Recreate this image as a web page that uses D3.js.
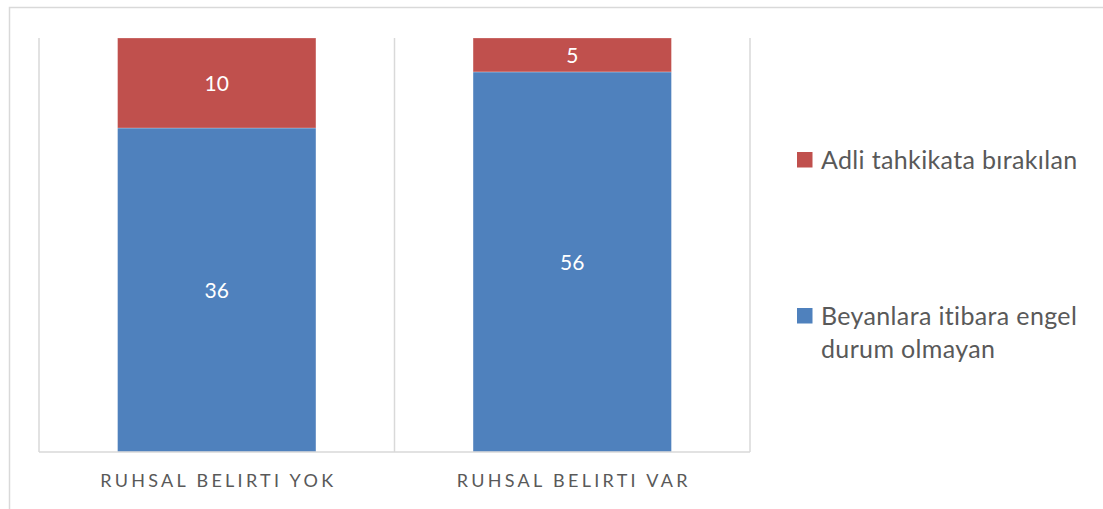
<!DOCTYPE html>
<html>
<head>
<meta charset="utf-8">
<script src="https://cdn.jsdelivr.net/npm/d3@7"></script>
<style>
  html, body { margin: 0; padding: 0; background: #fff; }
  svg { display: block; font-family: Lato, "Open Sans", sans-serif; font-variant-ligatures: none; }
</style>
</head>
<body>
<svg id="chart" width="1103" height="509"></svg>
<script>
// Categories and series (counts per group)
const categories = ["RUHSAL BELIRTI YOK", "RUHSAL BELIRTI VAR"];
const seriesNames = ["Beyanlara itibara engel durum olmayan", "Adli tahkikata bırakılan"];
const beyanlara = [36, 56];
const adli = [10, 5];
const seriesColors = ["#4F81BD", "#C0504D"];

const svg = d3.select("#chart");
const W = 1103, H = 509;
const plot = { left: 39, right: 750, top: 38, bottom: 452 };

// Outer chart frame (clipped at right and bottom edges)
svg.append("rect")
  .attr("x", 9.5).attr("y", 7.5)
  .attr("width", W).attr("height", H)
  .attr("fill", "none").attr("stroke", "#D9D9D9").attr("stroke-width", 1.5);

const x = d3.scaleBand().domain(categories).range([plot.left, plot.right]).padding(0);
const y = d3.scaleLinear().domain([0, 1]).range([plot.bottom, plot.top]);
const barW = x.bandwidth() * 0.558;

// Vertical gridlines at category boundaries
const gridXs = categories.map(c => x(c)).concat([plot.right]);
svg.append("g").selectAll("line").data(gridXs).join("line")
  .attr("x1", d => d).attr("x2", d => d)
  .attr("y1", plot.top).attr("y2", plot.bottom)
  .attr("stroke", "#D9D9D9").attr("stroke-width", 1.5);

// 100% stacked data
const rows = categories.map((c, i) => {
  const total = beyanlara[i] + adli[i];
  return { cat: c, vals: [beyanlara[i], adli[i]], total };
});
const stackData = rows.map(r => {
  let acc = 0;
  return r.vals.map((v, k) => {
    const seg = { cat: r.cat, k, v, y0: acc / r.total, y1: (acc + v) / r.total };
    acc += v;
    return seg;
  });
}).flat();

const segs = svg.append("g").selectAll("g").data(stackData).join("g");
segs.append("rect")
  .attr("x", d => x(d.cat) + (x.bandwidth() - barW) / 2)
  .attr("width", barW)
  .attr("y", d => y(d.y1))
  .attr("height", d => y(d.y0) - y(d.y1))
  .attr("fill", d => seriesColors[d.k])
  .attr("stroke", "#ffffff").attr("stroke-opacity", 0.35).attr("stroke-width", 0.75);
segs.append("text")
  .attr("x", d => x(d.cat) + x.bandwidth() / 2)
  .attr("y", d => (y(d.y0) + y(d.y1)) / 2)
  .attr("dy", "0.36em")
  .attr("text-anchor", "middle")
  .attr("fill", "#ffffff")
  .attr("font-size", 21)
  .text(d => d.v);

// Category axis baseline
svg.append("line")
  .attr("x1", plot.left).attr("x2", plot.right)
  .attr("y1", plot.bottom).attr("y2", plot.bottom)
  .attr("stroke", "#D9D9D9").attr("stroke-width", 1.5);

// Category labels
svg.append("g").selectAll("text").data(categories).join("text")
  .attr("x", d => x(d) + x.bandwidth() / 2 + 1.5)
  .attr("y", 487)
  .attr("text-anchor", "middle")
  .attr("fill", "#595959")
  .attr("font-size", 18)
  .attr("letter-spacing", "3.3px")
  .text(d => d);

// Legend (top entry is the upper segment)
const legendItems = [
  { color: seriesColors[1], lines: ["Adli tahkikata bırakılan"], y: 169 },
  { color: seriesColors[0], lines: ["Beyanlara itibara engel", "durum olmayan"], y: 325 }
];
const lg = svg.append("g").selectAll("g").data(legendItems).join("g");
lg.append("rect")
  .attr("x", 797).attr("y", d => d.y - 17)
  .attr("width", 15.5).attr("height", 15.5)
  .attr("fill", d => d.color);
lg.append("text")
  .attr("fill", "#595959")
  .attr("font-size", 25)
  .attr("letter-spacing", "0.35px")
  .selectAll("tspan").data(d => d.lines.map((t, i) => ({ t, i, y: d.y }))).join("tspan")
  .attr("x", 821)
  .attr("y", d => d.y + d.i * 33)
  .text(d => d.t);
</script>
</body>
</html>
